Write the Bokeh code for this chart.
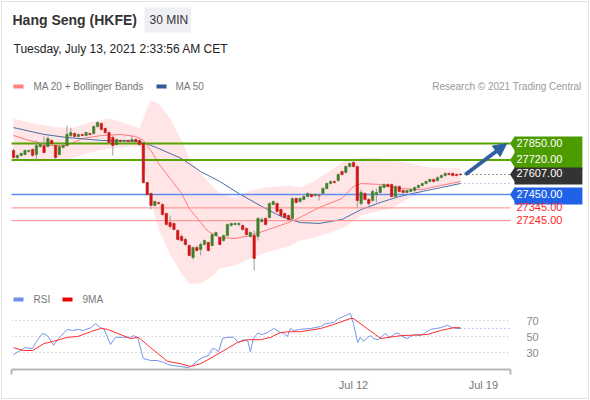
from bokeh.plotting import figure
from bokeh.models import (Range1d, Label, BoxAnnotation, Arrow, NormalHead,
                          FixedTicker, PolyAnnotation)
from bokeh.layouts import column
from bokeh.embed import file_html
from bokeh.resources import INLINE

FONT = "Liberation Sans"

# ---------------- data ----------------
opens = [27795, 27740, 27756, 27764, 27787, 27803, 27764, 27826, 27834, 27826,
         27874, 27834, 27764, 27819, 27834, 27913, 27928, 27905, 27921, 27913,
         27928, 27928, 27983, 28007, 27968, 27936, 27897, 27842, 27874, 27866,
         27874, 27866, 27881, 27874, 27850, 27544, 27458, 27364, 27387, 27372,
         27301, 27230, 27223, 27168, 27121, 27097, 27050, 26956, 27034, 27019,
         27058, 27074, 27050, 27128, 27113, 27089, 27128, 27207, 27215, 27215,
         27207, 27183, 27121, 27128, 27121, 27238, 27262, 27270, 27372, 27380,
         27332, 27301, 27285, 27262, 27419, 27395, 27411, 27434, 27450, 27442,
         27442, 27458, 27497, 27536, 27552, 27560, 27630, 27623, 27670, 27701,
         27670, 27380, 27458, 27411, 27403, 27450, 27466, 27505, 27529, 27529,
         27434, 27513, 27481, 27466, 27474, 27481, 27505, 27521, 27536, 27552,
         27568, 27560, 27583, 27599, 27615, 27615, 27607, 27610]
closes = [27740, 27756, 27772, 27795, 27795, 27756, 27834, 27842, 27779, 27889,
          27850, 27740, 27826, 27834, 27921, 27936, 27905, 27921, 27913, 27936,
          27921, 27983, 28015, 27960, 27936, 27858, 27834, 27881, 27866, 27874,
          27866, 27881, 27866, 27842, 27544, 27450, 27364, 27395, 27380, 27293,
          27215, 27199, 27176, 27097, 27089, 27058, 26972, 27034, 27011, 27058,
          27089, 27011, 27136, 27152, 27058, 27128, 27215, 27223, 27223, 27223,
          27176, 27136, 27152, 26948, 27262, 27254, 27215, 27380, 27395, 27317,
          27285, 27270, 27254, 27419, 27387, 27419, 27434, 27458, 27434, 27450,
          27440, 27497, 27536, 27552, 27544, 27607, 27607, 27670, 27693, 27670,
          27403, 27466, 27411, 27380, 27474, 27466, 27513, 27529, 27513, 27434,
          27513, 27474, 27466, 27481, 27489, 27505, 27521, 27536, 27552, 27568,
          27552, 27583, 27599, 27615, 27607, 27599, 27599, 27607]
highs = [27811, 27764, 27779, 27803, 27803, 27811, 27874, 27858, 27905, 27905,
         27881, 27842, 27834, 27850, 27991, 27975, 27936, 27928, 27928, 27944,
         27936, 27991, 28023, 28015, 27975, 27944, 27913, 27889, 27881, 27881,
         27881, 27913, 27889, 27881, 27858, 27552, 27466, 27403, 27395, 27380,
         27309, 27285, 27230, 27176, 27136, 27113, 27058, 27042, 27050, 27074,
         27097, 27081, 27144, 27160, 27121, 27136, 27223, 27230, 27230, 27230,
         27215, 27191, 27160, 27168, 27270, 27270, 27270, 27387, 27403, 27387,
         27340, 27309, 27293, 27427, 27427, 27427, 27442, 27466, 27458, 27458,
         27458, 27505, 27544, 27560, 27560, 27615, 27638, 27677, 27701, 27717,
         27677, 27489, 27466, 27419, 27489, 27497, 27521, 27536, 27536, 27536,
         27521, 27521, 27489, 27489, 27497, 27513, 27529, 27544, 27560, 27576,
         27576, 27591, 27607, 27623, 27623, 27623, 27615, 27615]
lows = [27732, 27725, 27748, 27756, 27779, 27748, 27709, 27819, 27772, 27819,
        27834, 27725, 27756, 27811, 27826, 27897, 27897, 27897, 27905, 27905,
        27913, 27921, 27975, 27952, 27928, 27850, 27756, 27834, 27858, 27858,
        27858, 27858, 27858, 27834, 27536, 27442, 27332, 27356, 27372, 27285,
        27207, 27183, 27168, 27089, 27081, 27050, 26964, 26940, 27003, 26972,
        27050, 27003, 27042, 27121, 27050, 27081, 27121, 27199, 27207, 27199,
        27168, 27128, 27113, 26854, 27089, 27230, 27207, 27262, 27364, 27309,
        27278, 27262, 27246, 27254, 27380, 27387, 27403, 27427, 27427, 27434,
        27403, 27450, 27489, 27529, 27536, 27552, 27599, 27615, 27662, 27662,
        27348, 27364, 27403, 27364, 27395, 27387, 27458, 27497, 27505, 27427,
        27427, 27466, 27458, 27458, 27466, 27474, 27497, 27513, 27529, 27544,
        27544, 27552, 27576, 27591, 27599, 27591, 27591, 27599]

ma20_idx = [0, 4, 10, 14, 18, 23, 28, 32, 34, 36, 38, 41, 44, 46, 49, 51, 54, 58, 62, 66,
            72, 75, 80, 86, 89, 91, 96, 101, 107, 112, 117]
ma20_val = [27913, 27874, 27834, 27834, 27889, 27913, 27921, 27905, 27874, 27795,
            27693, 27576, 27458, 27340, 27230, 27160, 27113, 27105, 27128, 27168,
            27230, 27270, 27348, 27419, 27513, 27536, 27529, 27497, 27489, 27521, 27552]

ma50_idx = [0, 8, 14, 23, 31, 34, 38, 44, 49, 54, 59, 65, 70, 75, 80, 86, 91, 96, 101, 107, 112, 117]
ma50_val = [27975, 27921, 27897, 27874, 27870, 27858, 27811, 27732, 27630, 27552, 27458,
            27356, 27278, 27230, 27223, 27254, 27332, 27387, 27434, 27474, 27505, 27536]

bb_idx = [0, 4, 10, 15, 20, 25, 31, 33, 35, 36, 38, 41, 44, 46, 49, 52, 54, 58, 62, 66,
          72, 75, 78, 83, 87, 91, 94, 99, 104, 109, 117]
bb_upper = [28046, 28015, 27983, 27968, 28015, 28046, 27991, 27968, 28125, 28187,
            28164, 28046, 27874, 27732, 27615, 27521, 27458, 27427, 27481, 27505,
            27521, 27505, 27544, 27638, 27717, 27732, 27740, 27717, 27693, 27662, 27654]
bb_lower = [27717, 27709, 27717, 27732, 27779, 27811, 27826, 27826, 27560, 27400,
            27180, 26980, 26830, 26750, 26752, 26807, 26870, 26893, 26948, 26995,
            27042, 27089, 27105, 27152, 27199, 27285, 27309, 27340, 27427, 27505, 27536]

rsi_idx = [0, 1.8, 3.1, 5.0, 5.8, 7.6, 8.9, 10.5, 11.8, 14.1, 15.4, 17.0, 18.3, 20.2, 21.5,
           22.8, 23.6, 24.6, 25.4, 26.7, 28.8, 30.6, 31.4, 32.5, 33.2, 34.0, 35.9, 37.7, 39.3,
           41.1, 43.7, 45.8, 46.9, 48.2, 49.7, 51.0, 52.1, 52.9, 53.7, 54.7, 56.0, 57.6, 58.9,
           60.2, 61.3, 62.0, 62.8, 63.9, 65.2, 66.5, 68.1, 69.9, 70.7, 71.7, 72.5, 73.3, 75.1,
           77.7, 80.4, 81.7, 83.8, 85.1, 86.9, 88.2, 89.0, 90.1, 90.8, 91.6, 92.7, 93.5, 94.2,
           95.5, 96.6, 97.4, 98.2, 99.2, 100.0, 100.8, 102.1, 103.1, 103.9, 105.2, 106.5,
           107.9, 109.2, 110.5, 111.8, 113.6, 114.9, 116.2, 117.0]
rsi_val = [27.5, 32.5, 36, 35, 42.5, 54, 51, 39, 47.5, 59, 57.5, 59, 57.5, 61, 66, 61, 60,
           49, 40, 49, 49, 49, 51, 49, 36, 22.5, 20, 20, 17.5, 14, 12.5, 11, 14, 20, 24, 26,
           35, 34, 31, 47.5, 49, 49, 42.5, 46, 45, 31, 47.5, 54, 52.5, 55, 60, 55, 54, 50,
           60, 57.5, 59, 60, 62.5, 66, 67.5, 72.5, 76, 79, 66, 42.5, 49, 44, 49, 51, 47.5,
           46, 51, 54, 49, 51, 54, 54, 49, 47.5, 50, 52.5, 51, 55, 59, 60, 61, 64, 61, 60, 60]

rsima_idx = [0, 2.6, 5.0, 7.9, 10.5, 14.1, 16.8, 20.2, 22.8, 24.6, 27.2, 30.6, 32.7, 35.9,
             40.3, 43.7, 46.3, 49.0, 52.4, 56.0, 58.6, 61.3, 64.7, 67.3, 69.9, 72.5, 75.1,
             80.4, 83.8, 88.2, 89.0, 96.1, 101.3, 108.4, 111.8, 115.2, 117.0]
rsima_val = [36, 32.5, 32.5, 41, 44, 49, 50, 56, 60, 59, 54, 47.5, 49, 36, 19, 16, 12.5, 16,
             25, 35, 42.5, 46, 46, 49, 55, 56, 56, 60, 65, 72.5, 72.5, 47.5, 51, 52.5, 57.5,
             61, 61]

levels = [27850, 27720, 27450, 27345, 27245]
level_kind = ["res", "res", "sup", "weak", "weak"]
arrow_idx = [118.3, 129.1]
tick_idx = [89, 123]
tick_labels = ["Jul 12", "Jul 19"]
rsi_ticks = [30, 50, 70]

# ---------------- layout constants (page pixels) ----------------
W = 590
HA, HB = 290, 110
BAR_PX, BAR0_PX = 3.82, 13.0          # bar spacing and page x of first bar
PLOT_L, PLOT_R = 11.0, 510.0           # page x of the plot area
def px2idx(px):
    return (px - BAR0_PX) / BAR_PX
X_L, X_R = px2idx(PLOT_L), px2idx(PLOT_R)

UP, DN, WICK = "#3f7f2a", "#cf1616", "#9a9a9a"
GREEN, GREEN_BG = "#58a300", "#4c9c00"
BLUE, BLUE_BG = "#5b8ef0", "#1f62e8"
RED_LINE, RED_TXT = "#ff8a8a", "#ff1e1e"
ARROW = "#2f5f9f"

# ---------------- price panel (frame = whole figure) ----------------
pA = figure(width=W, height=HA, x_range=Range1d(px2idx(0), px2idx(W)),
            y_range=Range1d(26697.1, 28971.6),
            output_backend="svg", toolbar_location=None,
            x_axis_location=None, y_axis_location=None,
            min_border_left=0, min_border_right=0, min_border_top=0, min_border_bottom=0)
pA.frame_align = False
pA.outline_line_color = None
pA.grid.visible = False
pA.background_fill_color = None
pA.border_fill_color = None

pA.varea(x=bb_idx, y1=bb_lower, y2=bb_upper, fill_color="#ffd4d4", fill_alpha=0.6)
pA.line(ma20_idx, ma20_val, line_color="#ff7a7a", line_width=1)
pA.line(ma50_idx, ma50_val, line_color="#4a6fa8", line_width=1)

lv_color = {"res": GREEN, "sup": BLUE, "weak": RED_LINE}
lv_width = {"res": 2, "sup": 1.6, "weak": 1}
pA.segment(x0=[X_L] * len(levels), y0=levels, x1=[X_R] * len(levels), y1=levels,
           line_color=[lv_color[k] for k in level_kind],
           line_width=[lv_width[k] for k in level_kind])

N = len(closes)
idx = list(range(N))
cols = [UP if c >= o else DN for o, c in zip(opens, closes)]
pA.segment(x0=idx, y0=lows, x1=idx, y1=highs, line_color=WICK, line_width=1)
pA.vbar(x=idx, width=0.62, top=[max(o, c) for o, c in zip(opens, closes)],
        bottom=[min(o, c) for o, c in zip(opens, closes)],
        fill_color=cols, line_color=cols, line_width=0.6)

pA.segment(x0=[N - 1], y0=[closes[-1]], x1=[X_R], y1=[closes[-1]],
           line_color="#333333", line_width=1, line_dash="1 3")
pA.segment(x0=[ma50_idx[-1]], y0=[ma50_val[-1]], x1=[X_R], y1=[ma50_val[-1]],
           line_color="#7d95c4", line_width=1, line_dash="1 3")

pt_px = HA / (pA.y_range.end - pA.y_range.start)
half = 7.5 / pt_px
BOX_L = PLOT_R + 4

def level_label(y, text, bg, fg):
    if bg is not None:
        pA.add_layout(PolyAnnotation(xs=[PLOT_R - 0.5, BOX_L + 0.5, BOX_L + 0.5], xs_units="screen",
                                     ys=[y, y + half, y - half], ys_units="data",
                                     fill_color=bg, fill_alpha=1, line_color=None))
    pA.add_layout(Label(x=BOX_L, y=y, x_units="screen", y_offset=-1.5, text=text,
                        text_font=FONT, text_font_size="11px", text_color=fg,
                        text_align="left", text_baseline="middle", background_fill_color=bg,
                        background_fill_alpha=1 if bg else 0, padding=(2, 20, 2, 7)))

for lv, kind in zip(levels, level_kind):
    if kind == "res":
        level_label(lv, f"{lv:.2f}", GREEN_BG, "white")
    elif kind == "sup":
        level_label(lv, f"{lv:.2f}", BLUE_BG, "white")
    else:
        level_label(lv, f"{lv:.2f}", None, RED_TXT)
level_label(closes[-1], f"{closes[-1]:.2f}", "#333333", "white")

pA.add_layout(Arrow(end=NormalHead(size=13, fill_color=ARROW, line_color=ARROW),
                    x_start=arrow_idx[0], y_start=closes[-1], x_end=arrow_idx[1], y_end=levels[0],
                    line_color=ARROW, line_width=4))

def text_at(p, x, page_y, bottom, text, size="10px", color="#777777", align="left",
            style="normal", **kw):
    p.add_layout(Label(x=x, y=bottom - page_y, x_units="screen", y_units="screen", text=text,
                       text_font=FONT, text_font_size=size, text_color=color,
                       text_font_style=style, text_align=align, text_baseline="middle", **kw))

def swatch(p, left, page_y, bottom, color):
    ym = bottom - page_y
    p.add_layout(BoxAnnotation(left=left, right=left + 10, bottom=ym - 2, top=ym + 2,
                               left_units="screen", right_units="screen",
                               bottom_units="screen", top_units="screen",
                               fill_color=color, fill_alpha=1, line_color=None))

text_at(pA, 12, 19.5, HA, "Hang Seng (HKFE)", size="14px", color="#333333", style="bold")
text_at(pA, 144, 19.5, HA, "30 MIN", size="12px", color="#333333",
        background_fill_color="#eef0f3", background_fill_alpha=1, padding=(5, 3, 5, 6))
text_at(pA, 13, 48, HA, "Tuesday, July 13, 2021 2:33:56 AM CET", size="12px", color="#222222")
swatch(pA, 13, 86, HA, "#ff8080")
text_at(pA, 33, 86, HA, "MA 20 + Bollinger Bands")
swatch(pA, 156, 86, HA, "#2e5a9a")
text_at(pA, 175, 86, HA, "MA 50")
text_at(pA, 581, 86, HA, "Research \u00a9 2021 Trading Central", color="#999999", align="right")

# ---------------- RSI panel ----------------
B_FRAME_BOTTOM = 369 - HA   # within figure B
pB = figure(width=W, height=HB, x_range=Range1d(X_L, X_R), y_range=Range1d(8.75, 107.5),
            output_backend="svg", toolbar_location=None, y_axis_location="right",
            min_border_left=int(PLOT_L), min_border_right=int(W - PLOT_R),
            min_border_top=0, min_border_bottom=HB - B_FRAME_BOTTOM)
pB.frame_align = False
pB.outline_line_color = None
pB.background_fill_color = None
pB.border_fill_color = None
pB.xgrid.visible = False
pB.yaxis.ticker = FixedTicker(ticks=rsi_ticks)
pB.ygrid.ticker = FixedTicker(ticks=rsi_ticks)
pB.ygrid.grid_line_color = "#bdbdbd"
pB.ygrid.grid_line_dash = "1 3"
pB.yaxis.axis_line_color = None
pB.yaxis.major_tick_line_color = None
pB.yaxis.minor_tick_line_color = None
pB.yaxis.major_label_text_color = "#888888"
pB.yaxis.major_label_text_font = FONT
pB.yaxis.major_label_text_font_size = "11px"
pB.yaxis.major_label_standoff = 10

pB.xaxis.ticker = FixedTicker(ticks=tick_idx, minor_ticks=[X_L + 0.1, X_R - 0.1])
pB.xaxis.major_label_overrides = {t: l for t, l in zip(tick_idx, tick_labels)}
pB.xaxis.axis_line_color = "#b8b8b8"
pB.xaxis.axis_line_width = 2
pB.xaxis.major_tick_line_color = None
pB.xaxis.minor_tick_line_color = "#b8b8b8"
pB.xaxis.minor_tick_line_width = 2
pB.xaxis.minor_tick_in = 0
pB.xaxis.minor_tick_out = 5
pB.xaxis.major_label_text_color = "#777777"
pB.xaxis.major_label_text_font = FONT
pB.xaxis.major_label_text_font_size = "11px"
pB.xaxis.major_label_standoff = 3

pB.line(rsi_idx, rsi_val, line_color="#7595ea", line_width=1)
pB.line(rsima_idx, rsima_val, line_color="#ff2c2c", line_width=1)
pB.segment(x0=[rsi_idx[-1]], y0=[rsi_val[-1]], x1=[X_R], y1=[rsi_val[-1]],
           line_color="#7595ea", line_width=1, line_dash="1 3")

# legend of the RSI panel (screen x relative to the frame's left edge)
swatch(pB, 13 - PLOT_L, 299 - HA, B_FRAME_BOTTOM, "#6f8fe8")
text_at(pB, 33 - PLOT_L, 299 - HA, B_FRAME_BOTTOM, "RSI")
swatch(pB, 62 - PLOT_L, 299 - HA, B_FRAME_BOTTOM, "#ee0000")
text_at(pB, 82 - PLOT_L, 299 - HA, B_FRAME_BOTTOM, "9MA")

layout = column(pA, pB, styles={"outline": "1px solid #e2e2e2", "outline-offset": "-2px",
                                "background-color": "white"})
open("out.html", "w").write(file_html(layout, INLINE))
